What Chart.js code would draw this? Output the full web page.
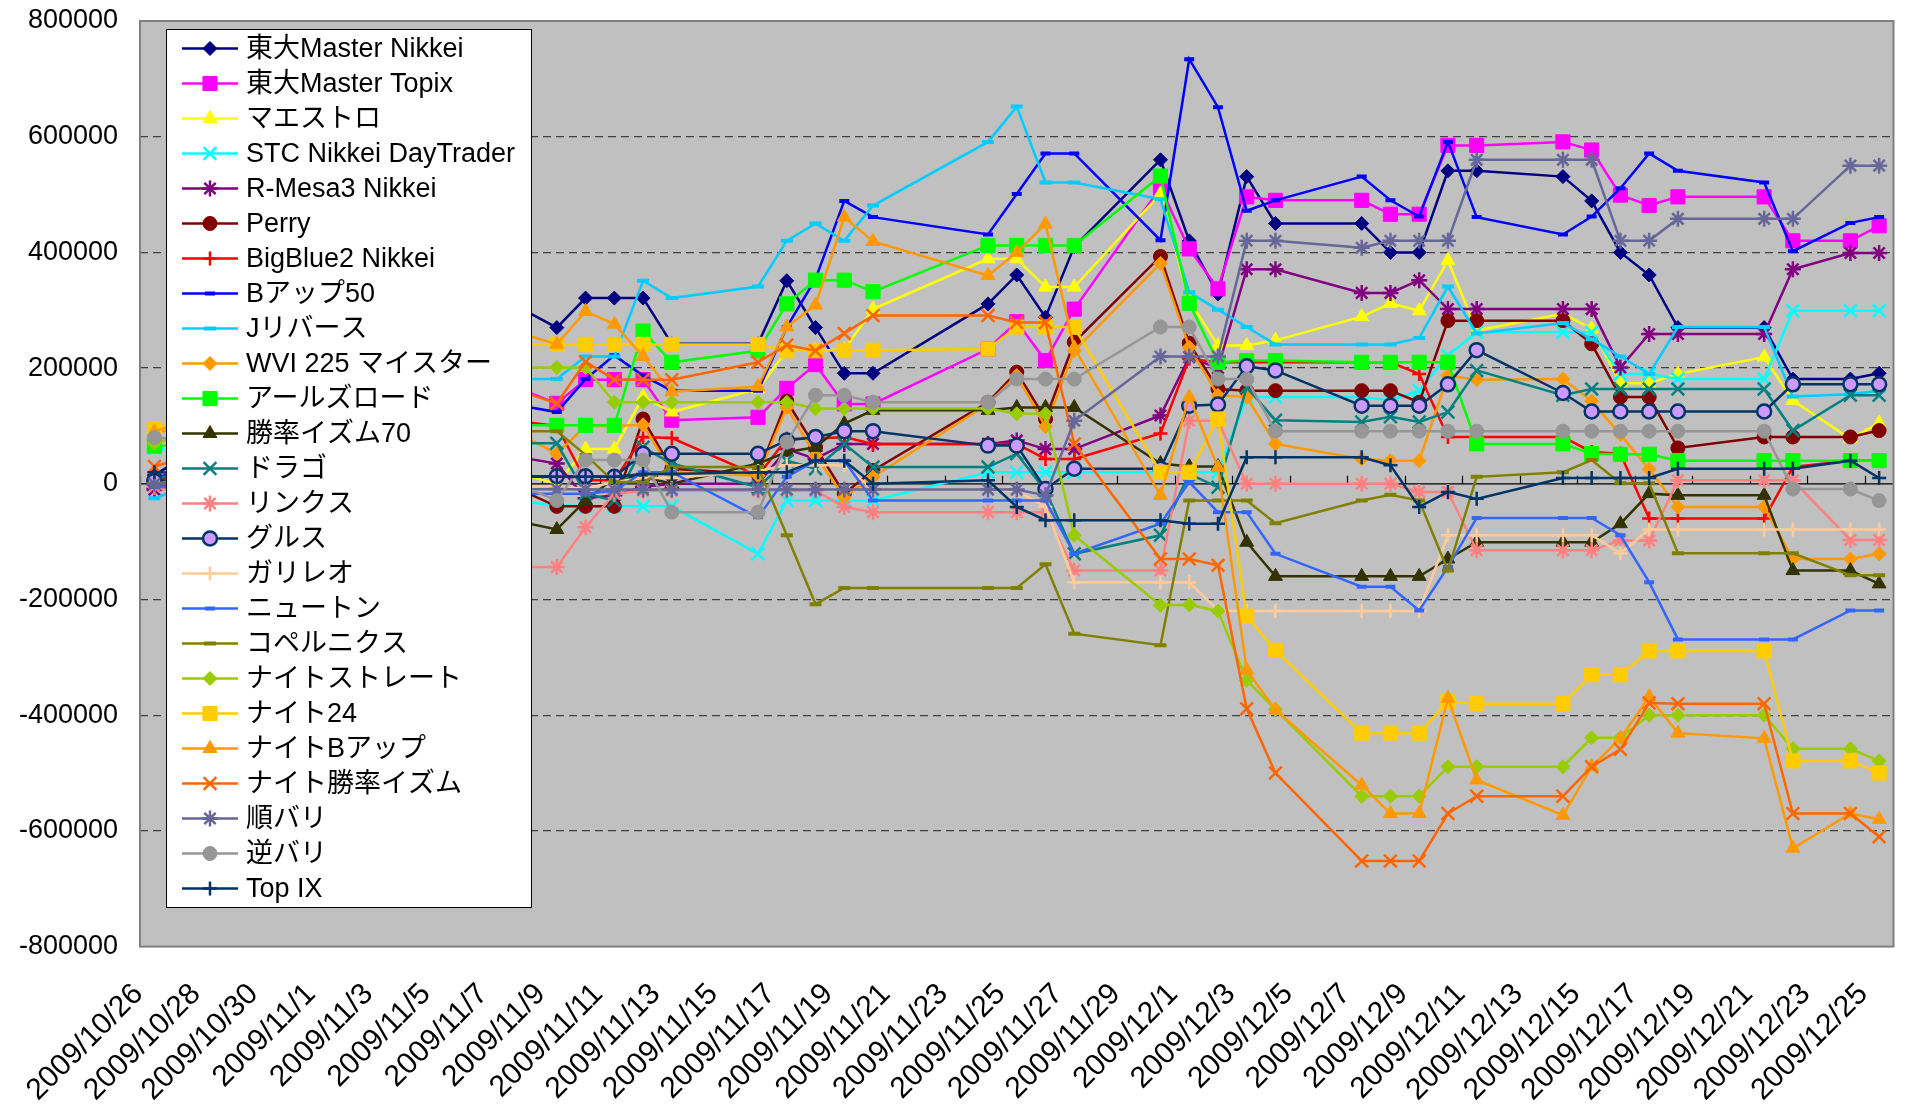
<!DOCTYPE html>
<html>
<head>
<meta charset="utf-8">
<script src="https://cdn.jsdelivr.net/npm/chart.js"></script>
<style>
  html, body { margin: 0; padding: 0; background: #fff; }
  #wrap { width: 1905px; height: 1104px; }
</style>
</head>
<body>
<div id="wrap"><canvas id="c" width="1905" height="1104"></canvas></div>
<script>
// calendar days shown on the axis (10/26 .. 12/25), labels every 2nd day
const axisDays = [];
for (let d = new Date(2009, 9, 26); d <= new Date(2009, 11, 25); d.setDate(d.getDate() + 1)) {
  axisDays.push(d.getFullYear() + '/' + (d.getMonth() + 1) + '/' + d.getDate());
}

// trading days with a value (10/27 .. 11/5 are hidden behind the legend)
const tradeDays = [
  '2009/10/26', '2009/10/27', '2009/10/28', '2009/10/29', '2009/10/30', '2009/11/2', '2009/11/4', '2009/11/5', '2009/11/6',
  '2009/11/9', '2009/11/10', '2009/11/11', '2009/11/12', '2009/11/13',
  '2009/11/16', '2009/11/17', '2009/11/18', '2009/11/19', '2009/11/20',
  '2009/11/24', '2009/11/25', '2009/11/26', '2009/11/27',
  '2009/11/30', '2009/12/1', '2009/12/2', '2009/12/3', '2009/12/4',
  '2009/12/7', '2009/12/8', '2009/12/9', '2009/12/10', '2009/12/11',
  '2009/12/14', '2009/12/15', '2009/12/16', '2009/12/17', '2009/12/18',
  '2009/12/21', '2009/12/22', '2009/12/24', '2009/12/25'
];
const H = [null, null, null, null, null, null, null]; // hidden days

// values in thousands of yen
const todaiNikkei = [15, ...H, 350, 270, 321, 321, 321, 242, 242, 351, 270, 191, 191, 311, 361, 288, 410, 560, 420, 328, 531, 450, 450, 400, 400, 541, 541, 531, 489, 400, 361, 270, 270, 181, 181, 191];
const todaiTopix  = [0, ...H, 197, 139, 180, 180, 180, 110, 115, 165, 206, 138, 138, 233, 280, 213, 302, 512, 406, 337, 496, 490, 490, 466, 466, 585, 585, 591, 577, 499, 481, 496, 496, 420, 420, 446];
const maestro     = [60, ...H, 40, 0, 60, 60, 150, 124, 164, 230, 230, 232, 302, 389, 389, 340, 340, 501, 317, 239, 239, 248, 289, 312, 299, 386, 265, 294, 268, 174, 174, 190, 219, 144, 78, 105];
const stcDay      = [62, ...H, -22, -37, -39, -39, -39, -39, -121, -29, -29, -29, -29, 20, 20, 20, 20, 20, 20, 20, 150, 150, 150, 144, 161, 222, 262, 262, 262, 190, 190, 181, 181, 299, 299, 299];
const rMesa3      = [-10, ...H, 60, 35, -25, -20, -5, 0, 0, 60, 43, 69, 69, 69, 75, 60, 60, 118, 219, 200, 371, 371, 330, 330, 352, 302, 302, 302, 302, 201, 259, 259, 259, 371, 399, 399];
const perry       = [5, ...H, 28, -39, -39, -39, 112, 26, 17, 143, 63, -17, 23, 141, 193, 112, 245, 393, 243, 164, 161, 161, 161, 161, 141, 282, 282, 282, 242, 150, 150, 62, 81, 81, 81, 92];
const bigBlue2    = [5, ...H, 118, 100, 6, 6, 81, 79, 14, 78, 78, 81, 69, 69, 69, 43, 43, 87, 216, 210, 210, 210, 210, 210, 190, 81, 81, 81, 55, 52, -60, -60, -60, 29, 40, 40];
const bUp50       = [10, ...H, 150, 124, 181, 222, 187, 161, 161, 271, 354, 489, 461, 431, 501, 571, 571, 421, 734, 651, 472, 490, 531, 490, 462, 591, 461, 431, 462, 511, 571, 541, 521, 402, 451, 461];
const jReverse    = [-25, ...H, 181, 181, 220, 220, 351, 321, 341, 420, 450, 420, 481, 591, 652, 521, 521, 492, 331, 301, 271, 241, 241, 241, 252, 341, 260, 278, 250, 220, 190, 271, 271, 151, 155, 161];
const wvi225      = [90, ...H, 130, 52, 100, 100, 102, 20, 14, 132, 49, -23, 12, 138, 187, 99, 230, 381, 236, 153, 150, 69, 43, 40, 40, 187, 180, 181, 143, 85, 25, -40, -40, -130, -130, -121];
const aalsRoad    = [65, ...H, 101, 101, 101, 101, 264, 210, 230, 311, 352, 352, 332, 412, 412, 412, 412, 532, 312, 210, 213, 213, 210, 210, 210, 210, 69, 69, 52, 51, 51, 40, 40, 40, 40, 40];
const winRate70   = [0, ...H, -48, -79, -29, 10, 12, 0, 35, 55, 63, 104, 127, 127, 132, 132, 132, 35, 30, 30, -101, -160, -160, -160, -160, -130, -101, -101, -101, -69, -17, -20, -20, -150, -150, -173];
const drago       = [10, ...H, 70, 70, -17, -29, 63, 35, -6, 40, 26, 69, 29, 29, 52, -12, -121, -89, 17, -6, 167, 110, 107, 116, 107, 124, 196, 153, 164, 164, 164, 164, 164, 92, 153, 153];
const links       = [-5, ...H, -144, -144, -75, -17, -12, -12, -12, -12, -12, -40, -49, -49, -49, -49, -150, -150, 109, 109, 0, 0, 0, 0, -14, -14, -115, -115, -115, -98, -98, 6, 6, 6, -97, -97];
const gurusu      = [5, ...H, 13, 13, 13, 12, 52, 52, 52, 75, 81, 91, 91, 66, 66, -9, 26, 26, 135, 137, 203, 196, 135, 135, 135, 172, 231, 157, 125, 125, 125, 125, 125, 172, 172, 172];
const galileo     = [0, ...H, -5, -5, -8, 3, 10, 10, 22, 32, 32, 32, -10, -10, -12, -40, -170, -170, -170, -219, -220, -220, -220, -220, -220, -89, -89, -89, -89, -120, -79, -79, -79, -79, -79, -79];
const newton      = [-5, ...H, -17, -17, -17, -12, 20, 20, -58, 12, 40, 40, -29, -29, -29, -29, -121, -69, 3, -49, -49, -121, -178, -178, -219, -144, -59, -59, -59, -89, -170, -269, -269, -269, -219, -219];
const copernicus  = [0, ...H, 91, 91, 50, 3, 3, 29, 29, -89, -208, -180, -180, -180, -180, -139, -259, -279, -29, -29, -29, -68, -29, -19, -29, -150, 12, 20, 41, 1, 1, -120, -120, -120, -158, -158];
const nightStr    = [70, ...H, 201, 201, 201, 141, 141, 141, 141, 141, 130, 130, 130, 130, 121, 121, -89, -210, -209, -220, -340, -390, -540, -540, -540, -489, -489, -489, -439, -439, -400, -400, -400, -458, -458, -479];
const night24     = [95, ...H, 241, 241, 241, 241, 241, 241, 241, 230, 230, 231, 231, 233, 271, 271, 271, 20, 20, 112, -229, -288, -431, -431, -431, -377, -380, -380, -330, -330, -289, -289, -289, -479, -479, -500];
const nightBUp    = [90, ...H, 288, 241, 298, 276, 220, 159, 168, 271, 309, 461, 419, 360, 400, 449, 235, -20, 150, 28, -322, -391, -521, -570, -570, -371, -512, -573, -489, -440, -368, -431, -440, -630, -570, -580];
const nightWin    = [30, ...H, 188, 139, 211, 180, 180, 180, 210, 240, 230, 260, 291, 291, 279, 279, 69, -130, -130, -141, -389, -500, -652, -652, -652, -570, -540, -540, -489, -459, -379, -380, -380, -570, -570, -610];
const junBari     = [0, ...H, -10, -9, -10, -10, -10, -10, -10, -10, -10, -10, -10, -10, -10, -20, 109, 220, 220, 220, 420, 420, 408, 420, 420, 420, 560, 560, 560, 420, 420, 458, 458, 458, 550, 550];
const gyakuBari   = [80, ...H, 33, -29, 41, 41, 41, -49, -49, 72, 153, 153, 141, 141, 181, 181, 181, 271, 271, 181, 181, 91, 91, 91, 91, 91, 91, 91, 91, 91, 91, 91, 91, -9, -9, -29];
const topIX       = [20, ...H, 12, 12, 12, 12, 17, 17, 20, 20, 40, 40, 0, 6, -40, -63, -63, -63, -69, -69, 46, 46, 46, 32, -40, -14, -26, 10, 10, 10, 10, 26, 26, 26, 40, 10];

const seriesNames = [
  '東大Master Nikkei', '東大Master Topix', 'マエストロ', 'STC Nikkei DayTrader', 'R-Mesa3 Nikkei',
  'Perry', 'BigBlue2 Nikkei', 'Bアップ50', 'Jリバース', 'WVI 225 マイスター', 'アールズロード',
  '勝率イズム70', 'ドラゴ', 'リンクス', 'グルス', 'ガリレオ', 'ニュートン', 'コペルニクス',
  'ナイトストレート', 'ナイト24', 'ナイトBアップ', 'ナイト勝率イズム', '順バリ', '逆バリ', 'Top IX'
];
const seriesValues = [
  todaiNikkei, todaiTopix, maestro, stcDay, rMesa3, perry, bigBlue2, bUp50, jReverse, wvi225, aalsRoad,
  winRate70, drago, links, gurusu, galileo, newton, copernicus, nightStr, night24, nightBUp, nightWin,
  junBari, gyakuBari, topIX
];
const yTicks = [-800000, -600000, -400000, -200000, 0, 200000, 400000, 600000, 800000];

// look of each series: colour, marker, marker size, marker fill
const looks = [
  { c: '#000080', m: 'rectRot',  r: 7 },
  { c: '#FF00FF', m: 'rect',     r: 10 },
  { c: '#FFFF00', m: 'triangle', r: 8 },
  { c: '#00FFFF', m: 'crossRot', r: 9 },
  { c: '#800080', m: 'star',     r: 8 },
  { c: '#800000', m: 'circle',   r: 7 },
  { c: '#FF0000', m: 'cross',    r: 7 },
  { c: '#0000FF', m: 'line',     r: 5 },
  { c: '#00CCFF', m: 'line',     r: 6 },
  { c: '#FF9900', m: 'rectRot',  r: 7 },
  { c: '#00FF00', m: 'rect',     r: 10 },
  { c: '#333300', m: 'triangle', r: 8 },
  { c: '#008080', m: 'crossRot', r: 9 },
  { c: '#FF8080', m: 'star',     r: 8 },
  { c: '#003366', m: 'circle',   r: 7, fill: '#CC99FF' },
  { c: '#FFCC99', m: 'cross',    r: 7 },
  { c: '#3366FF', m: 'line',     r: 5 },
  { c: '#808000', m: 'line',     r: 6 },
  { c: '#99CC00', m: 'rectRot',  r: 7 },
  { c: '#FFCC00', m: 'rect',     r: 10 },
  { c: '#FF9900', m: 'triangle', r: 8 },
  { c: '#FF6600', m: 'crossRot', r: 9 },
  { c: '#666699', m: 'star',     r: 8 },
  { c: '#969696', m: 'circle',   r: 7 },
  { c: '#003366', m: 'cross',    r: 7 }
];

const FONT = '"Liberation Sans", Arial, "Noto Sans CJK JP", sans-serif';
const strokeOnly = m => m === 'cross' || m === 'crossRot' || m === 'star' || m === 'line';
const markWidth = lk => strokeOnly(lk.m) ? (lk.m === 'line' ? 4 : 2.5) : (lk.fill ? 2.5 : 1);

const datasets = seriesNames.map((name, i) => {
  const lk = looks[i];
  return {
    label: name,
    data: tradeDays.map((d, k) => ({ x: d, y: seriesValues[i][k] === null ? null : seriesValues[i][k] * 1000 })),
    borderColor: lk.c,
    borderWidth: 2.5,
    pointStyle: lk.m,
    pointRadius: lk.r,
    pointBackgroundColor: lk.fill || lk.c,
    pointBorderColor: lk.c,
    pointBorderWidth: markWidth(lk),
    tension: 0,
    spanGaps: true,
    order: seriesNames.length - i   // later series drawn on top, like Excel
  };
});

function drawMark(ctx, lk, x, y) {
  ctx.save();
  ctx.fillStyle = lk.fill || lk.c;
  ctx.strokeStyle = lk.c;
  ctx.lineWidth = markWidth(lk);
  Chart.helpers.drawPoint(ctx, { pointStyle: lk.m, radius: lk.r, rotation: 0, borderWidth: ctx.lineWidth }, x, y);
  ctx.restore();
}

const plotDeco = {
  id: 'plotDeco',
  beforeDraw(chart) {
    const { ctx, chartArea: a } = chart;
    ctx.save();
    ctx.fillStyle = '#C0C0C0';
    ctx.fillRect(a.left, a.top, a.right - a.left, a.bottom - a.top);
    ctx.restore();
  },
  beforeDatasetsDraw(chart) {
    const { ctx, chartArea: a } = chart;
    const xs = chart.scales.x, ys = chart.scales.y;
    const y0 = ys.getPixelForValue(0);
    const half = (xs.getPixelForValue(1) - xs.getPixelForValue(0)) / 2;
    ctx.save();
    ctx.strokeStyle = '#000';
    ctx.lineWidth = 1.2;
    ctx.beginPath();
    ctx.moveTo(a.left, y0); ctx.lineTo(a.right, y0);
    for (let i = 0; i < axisDays.length; i += 2) {
      const x = Math.round(xs.getPixelForValue(i) - half) + 0.5;
      ctx.moveTo(x, y0); ctx.lineTo(x, y0 - 8);
    }
    ctx.stroke();
    ctx.restore();
  },
  afterDatasetsDraw(chart) {
    const { ctx, chartArea: a } = chart;
    ctx.save();
    ctx.strokeStyle = '#808080';
    ctx.lineWidth = 2;
    ctx.strokeRect(a.left, a.top, a.right - a.left, a.bottom - a.top);

    // legend box inside the plot
    const L = 166, T = 29, R = 531, B = 907;
    ctx.fillStyle = '#fff';
    ctx.fillRect(L, T, R - L, B - T);
    ctx.strokeStyle = '#000';
    ctx.lineWidth = 1;
    ctx.strokeRect(L + 0.5, T + 0.5, R - L, B - T);
    ctx.font = '27px ' + FONT;
    ctx.textBaseline = 'middle';
    ctx.textAlign = 'left';
    seriesNames.forEach((name, i) => {
      const lk = looks[i];
      const y = 48.5 + 35 * i;
      ctx.strokeStyle = lk.c;
      ctx.lineWidth = 2.5;
      ctx.beginPath();
      ctx.moveTo(182, y); ctx.lineTo(238, y);
      ctx.stroke();
      drawMark(ctx, lk, 210, y);
      ctx.fillStyle = '#000';
      ctx.fillText(name, 246, y + 1);
    });
    ctx.restore();
  }
};

new Chart(document.getElementById('c'), {
  type: 'line',
  data: { labels: axisDays, datasets },
  plugins: [plotDeco],
  options: {
    responsive: false,
    devicePixelRatio: 1,
    animation: false,
    layout: { padding: { left: 0, right: 5, top: 21, bottom: 0 } },
    plugins: { legend: { display: false }, tooltip: { enabled: false } },
    scales: {
      x: {
        type: 'category',
        offset: true,
        grid: { display: false, drawTicks: false },
        border: { display: false },
        ticks: {
          autoSkip: false,
          maxRotation: 45,
          minRotation: 45,
          padding: 30,
          labelOffset: -16,
          color: '#000',
          font: { family: FONT, size: 30 },
          callback: function (v, i) { return i % 2 === 0 ? this.getLabelForValue(v) : ''; }
        },
        afterFit(s) { s.height = 157.4; s.paddingLeft = 0; s.paddingRight = 0; }
      },
      y: {
        min: -800000,
        max: 800000,
        afterBuildTicks(s) { s.ticks = yTicks.map(v => ({ value: v })); },
        grid: {
          drawTicks: false,
          color: c => (c.tick && (c.tick.value === 0 || Math.abs(c.tick.value) === 800000)) ? 'rgba(0,0,0,0)' : '#404040',
          lineWidth: 1.3
        },
        border: { display: false, dash: [8, 5] },
        ticks: {
          padding: 22,
          color: '#000',
          font: { family: FONT, size: 27 },
          callback: v => String(v)
        },
        afterFit(s) { s.width = 140; s.paddingTop = 0; s.paddingBottom = 0; }
      }
    }
  }
});
</script>
</body>
</html>
